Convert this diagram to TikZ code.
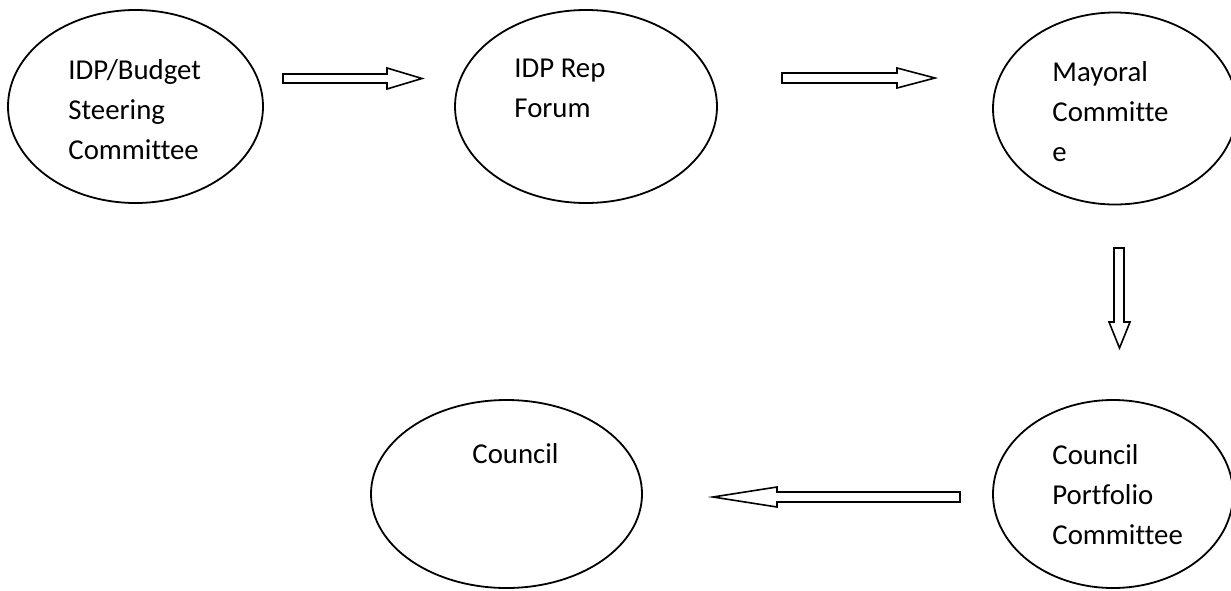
\documentclass[tikz,border=0pt]{standalone}
\usepackage{fontspec}
\setmainfont[Ligatures=NoCommon]{Carlito}
\usetikzlibrary{shapes.geometric}

\tikzset{
  oval/.style={draw, ellipse, line width=0.9pt, inner sep=0pt},
  label text/.style={anchor=base west, inner sep=0pt, align=left,
    font=\fontsize{14.4}{20}\selectfont},
  block arrow/.style={draw, line width=0.8pt, fill=white, line join=miter}
}

\begin{document}
\begin{tikzpicture}[x=0.5pt, y=-0.5pt]

\useasboundingbox (0,0) rectangle (1231,590);
\clip (0,0) rectangle (1231,590);

%------------------------------------------------
% Ovals
%------------------------------------------------

\node[oval, minimum width=127.5pt, minimum height=96.5pt] (steering) at (135.5,106.5) {};
\node[oval, minimum width=131pt,   minimum height=96.5pt] (repforum) at (586,106.5)   {};
\node[oval, minimum width=122pt,   minimum height=96pt]   (mayoral)  at (1115,108.5)  {};
\node[oval, minimum width=120pt,   minimum height=94pt]   (portfolio) at (1113,494)   {};
\node[oval, minimum width=135.5pt, minimum height=94pt]   (council)  at (506.5,494)   {};

%------------------------------------------------
% Texts (anchored at the baseline of the last line)
%------------------------------------------------

\node[label text] (steeringtext)  at (68,159)   {IDP/Budget\\Steering\\Committee};
\node[label text] (repforumtext)  at (514,117)  {IDP Rep\\Forum};
\node[label text] (mayoraltext)   at (1052,161) {Mayoral\\Committe\\e};
\node[label text] (portfoliotext) at (1052,544) {Council\\Portfolio\\Committee};
\node[label text] (counciltext)   at (472,463)  {Council};

%------------------------------------------------
% Block arrows
%------------------------------------------------

\draw[block arrow] (283,74) -- (387,74) -- (387,68) -- (422,78.5)
  -- (387,89) -- (387,83) -- (283,83) -- cycle;

\draw[block arrow] (782,73) -- (897,73) -- (897,68) -- (935,78)
  -- (897,88) -- (897,83) -- (782,83) -- cycle;

\draw[block arrow] (1114,248) -- (1114,322) -- (1109,322) -- (1119.5,348)
  -- (1130,322) -- (1124,322) -- (1124,248) -- cycle;

\draw[block arrow] (960,492) -- (777,492) -- (777,487) -- (713,497)
  -- (777,507) -- (777,502) -- (960,502) -- cycle;

\end{tikzpicture}
\end{document}
